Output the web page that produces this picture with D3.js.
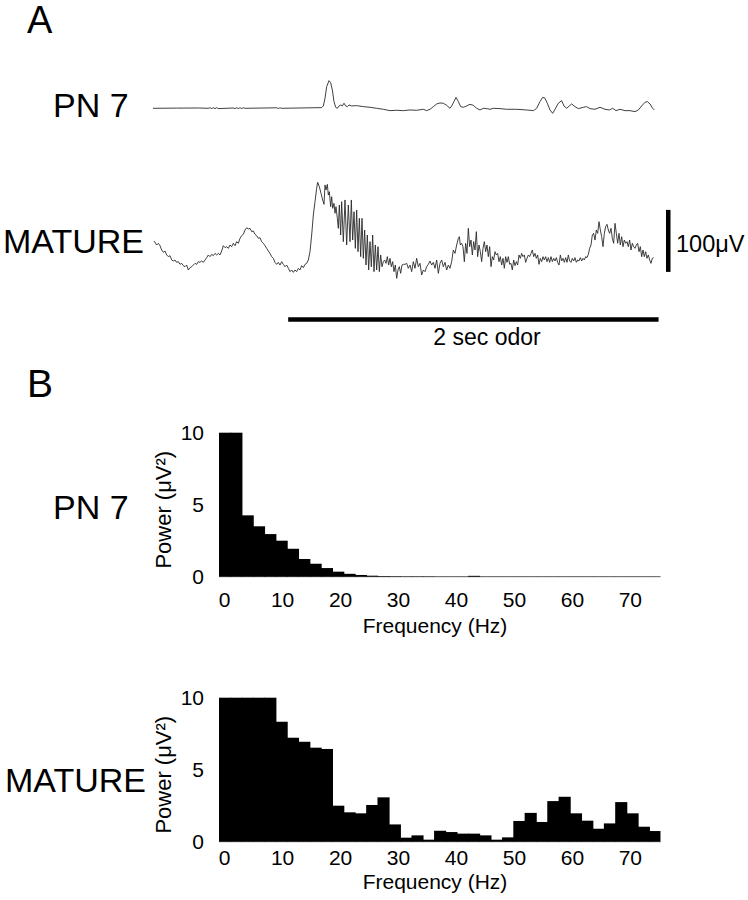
<!DOCTYPE html>
<html>
<head>
<meta charset="utf-8">
<script src="https://cdn.jsdelivr.net/npm/d3@7"></script>
<style>
  html, body { margin: 0; padding: 0; background: #fff; }
  svg { display: block; }
  text { font-family: "Liberation Sans", Arial, Helvetica, sans-serif; fill: #000; }
</style>
</head>
<body>
<svg id="chart" width="748" height="900"></svg>
<script>
// ---------------- DATA ----------------
// Panel A: LFP traces (time in ms from trace start, voltage in µV)
const pn7TimeMs = [0,127.8,244.8,298.8,307.8,316.8,325.8,334.8,343.8,352.8,433.8,442.8,451.8,460.8,469.8,478.8,487.8,496.8,667.8,676.8,685.8,694.8,910.8,919.8,928.8,937.8,950.4,959.4,968.4,977.4,986.4,995.4,1004.4,1013.4,1022.4,1031.4,1040.4,1049.4,1058.4,1072.8,1099.8,1135.8,1171.8,1207.8,1243.8,1279.8,1315.8,1351.8,1387.8,1423.8,1459.8,1477.8,1495.8,1513.8,1531.8,1549.8,1567.8,1585.8,1603.8,1612.8,1625.4,1636.2,1648.8,1661.4,1675.8,1693.8,1711.8,1729.8,1747.8,1765.8,1783.8,1801.8,1819.8,1837.8,1873.8,1909.8,1963.8,2017.8,2053.8,2071.8,2089.8,2104.2,2116.8,2129.4,2143.8,2158.2,2170.8,2188.8,2206.8,2219.4,2233.8,2248.2,2260.8,2278.8,2296.8,2323.8,2341.8,2359.8,2386.8,2413.8,2440.8,2464.2,2482.2,2500.2,2521.8,2548.8,2575.8,2602.8,2620.8,2638.8,2656.8,2669.4,2683.8,2698.2,2707.2];
const pn7MicroV = [0,0.3,0.5,0,1.0,-0.5,1.0,-0.5,1.0,-0.5,0.5,-0.5,1.0,-0.5,1.0,-0.5,1.0,0,0.8,-0.3,0.8,0,1.1,3.8,16.1,34.9,44.6,41.4,29.6,10.8,1.6,0,3.8,5.4,3.8,8.1,3.8,2.7,5.4,3.8,4.3,2.7,1.6,0,-1.6,-3.8,-3.2,-3.8,-2.7,-3.2,-1.6,-3.8,-1.6,2.7,7.0,8.6,8.1,4.8,0,3.8,10.8,17.7,10.8,2.7,1.6,3.8,6.5,4.8,0,-2.7,0,-0.5,-1.6,0,-0.5,-1.6,-1.6,-2.7,-3.8,0,10.8,17.7,16.1,8.1,-2.7,-8.1,-1.6,8.1,12.4,3.8,0,3.8,7.0,2.7,-0.5,1.6,2.7,-0.5,-1.6,1.6,-1.6,-2.7,0,-3.8,-1.6,-3.8,-3.8,-5.4,-2.7,3.8,9.7,10.8,7.0,0,-2.7];

const matureTimeMs = [5.4,19.8,28.8,37.8,46.8,55.8,64.8,73.8,82.8,91.8,100.8,109.8,118.8,127.8,136.8,145.8,154.8,163.8,172.8,181.8,190.8,199.8,208.8,217.8,226.8,235.8,244.8,253.8,262.8,271.8,280.8,289.8,298.8,307.8,316.8,325.8,334.8,343.8,352.8,361.8,370.8,379.8,388.8,397.8,406.8,415.8,424.8,433.8,442.8,451.8,460.8,469.8,478.8,487.8,496.8,505.8,514.8,523.8,532.8,541.8,550.8,559.8,568.8,577.8,586.8,595.8,604.8,613.8,622.8,631.8,640.8,649.8,658.8,667.8,676.8,685.8,694.8,703.8,712.8,721.8,730.8,739.8,748.8,757.8,766.8,775.8,784.8,793.8,802.8,811.8,820.8,829.8,838.8,847.8,856.8,865.8,874.8,883.8,889.2,898.2,907.2,916.2,923.4,928.8,934.2,941.4,946.8,952.2,959.4,964.8,970.2,977.4,982.8,988.2,995.4,1000.8,1006.2,1013.4,1018.8,1027.8,1036.8,1045.8,1054.8,1063.8,1071.0,1078.2,1085.4,1092.6,1099.8,1107.0,1114.2,1121.4,1128.6,1135.8,1143.0,1150.2,1157.4,1164.6,1171.8,1179.0,1186.2,1193.4,1200.6,1207.8,1215.0,1222.2,1229.4,1236.6,1243.8,1251.0,1258.2,1265.4,1272.6,1279.8,1287.0,1294.2,1301.4,1308.6,1315.8,1323.0,1330.2,1337.4,1344.6,1351.8,1360.8,1369.8,1378.8,1387.8,1396.8,1405.8,1414.8,1423.8,1432.8,1441.8,1450.8,1459.8,1468.8,1477.8,1486.8,1495.8,1504.8,1513.8,1522.8,1531.8,1540.8,1549.8,1558.8,1567.8,1576.8,1585.8,1594.8,1603.8,1612.8,1621.8,1630.8,1639.8,1648.8,1654.2,1659.6,1666.8,1674.0,1681.2,1688.4,1695.6,1702.8,1710.0,1717.2,1724.4,1731.6,1738.8,1746.0,1753.2,1760.4,1767.6,1774.8,1782.0,1789.2,1796.4,1803.6,1810.8,1818.0,1825.2,1832.4,1839.6,1846.8,1854.0,1861.2,1868.4,1875.6,1882.8,1890.0,1897.2,1904.4,1911.6,1918.8,1926.0,1933.2,1940.4,1947.6,1954.8,1962.0,1969.2,1976.4,1983.6,1990.8,1998.0,2005.2,2012.4,2019.6,2026.8,2034.0,2041.2,2048.4,2055.6,2062.8,2070.0,2077.2,2084.4,2091.6,2098.8,2106.0,2113.2,2120.4,2127.6,2134.8,2142.0,2149.2,2156.4,2163.6,2170.8,2178.0,2185.2,2192.4,2199.6,2206.8,2214.0,2221.2,2228.4,2235.6,2242.8,2250.0,2257.2,2264.4,2271.6,2278.8,2286.0,2293.2,2300.4,2307.6,2314.8,2322.0,2329.2,2336.4,2343.6,2350.8,2358.0,2365.2,2372.4,2379.6,2386.8,2394.0,2401.2,2408.4,2415.6,2422.8,2430.0,2437.2,2444.4,2451.6,2458.8,2466.0,2473.2,2480.4,2487.6,2494.8,2502.0,2509.2,2516.4,2523.6,2530.8,2538.0,2545.2,2552.4,2559.6,2566.8,2574.0,2581.2,2588.4,2595.6,2602.8,2610.0,2617.2,2624.4,2631.6,2638.8,2646.0,2653.2,2660.4,2667.6,2674.8,2682.0,2689.2,2696.4,2703.6];
const matureMicroV = [54.8,48.4,51.1,47.3,40.3,36.6,38.7,32.3,29.6,31.2,24.2,22.6,24.2,20.4,21.5,17.2,18.8,15.1,13.4,16.1,8.1,11.8,13.4,16.1,18.8,17.2,21.5,20.4,22.6,20.4,24.2,28.0,32.3,29.6,33.3,31.2,34.9,32.3,34.9,32.3,38.7,47.3,44.1,45.7,43.0,48.4,45.7,51.1,47.3,53.8,51.1,59.1,63.4,65.6,72.6,76.3,74.2,75.3,69.9,71.0,65.6,63.4,59.1,60.2,53.8,51.1,47.3,43.0,38.7,34.9,29.6,26.9,20.4,17.2,20.4,16.1,21.5,17.2,13.4,16.1,10.8,5.4,8.1,4.3,8.1,5.4,10.8,8.1,15.1,11.8,17.2,18.8,24.2,37.6,64.5,96.8,118.3,139.8,149.5,142.5,131.7,121.0,114.0,145.2,137.1,146.2,129.0,134.4,110.2,126.3,107.5,115.6,99.5,110.2,91.4,75.3,112.9,64.5,118.3,53.8,121.0,48.4,112.9,53.8,121.0,56.4,102.1,43.0,104.8,37.6,91.4,29.6,91.4,26.9,72.6,16.1,64.5,8.1,53.8,13.4,64.5,5.4,48.4,8.1,45.7,5.4,32.3,13.4,21.5,24.2,18.8,29.6,16.1,26.9,13.4,21.5,5.4,16.1,-5.4,8.1,13.4,2.7,16.1,17.2,17.2,18.8,10.8,16.1,5.4,21.5,10.8,26.9,13.4,18.8,0,8.1,5.4,13.4,17.2,22.6,16.1,20.4,10.8,24.2,2.7,18.8,24.2,13.4,20.4,8.1,16.1,10.8,21.5,40.3,34.9,48.4,59.1,61.8,48.4,51.1,45.7,21.5,51.1,34.9,75.3,45.7,56.4,32.3,53.8,40.3,69.9,29.6,48.4,37.6,21.5,43.0,53.8,37.6,48.4,29.6,45.7,13.4,29.6,24.2,37.6,32.3,34.9,21.5,29.6,16.1,26.9,10.8,29.6,20.4,29.6,17.2,18.8,8.1,24.2,15.1,21.5,16.1,32.3,26.9,34.9,29.6,32.3,20.4,26.9,32.3,29.6,34.9,40.3,29.6,34.9,26.9,32.3,17.2,26.9,21.5,29.6,24.2,29.6,21.5,28.0,20.4,29.6,21.5,26.9,22.6,28.0,20.4,16.1,32.3,22.6,26.9,20.4,28.0,20.4,32.3,22.6,20.4,26.9,22.6,28.0,20.4,24.2,22.6,28.0,22.6,26.9,24.2,29.6,28.0,33.3,43.0,48.4,64.5,67.2,56.4,72.6,67.2,86.0,72.6,61.8,45.7,67.2,78.0,81.7,72.6,67.2,75.3,59.1,51.1,83.3,67.2,51.1,67.2,48.4,61.8,45.7,56.4,51.1,53.8,45.7,56.4,40.3,51.1,45.7,43.0,48.4,51.1,37.6,45.7,29.6,40.3,29.6,37.6,26.9,32.3,24.2,18.8,26.9,28.0];

const traceSpanMs = 2750;
const odorOnsetMs = 730;
const odorOffsetMs = 2730;
const scaleBarMicroV = 100;
const traceLabels = ["PN 7", "MATURE"];

// Panel B: power spectra (bins of 1.953125 Hz, centred on k * binWidth)
const binWidthHz = 1.953125;
const pn7Power = [10,10,4.26,3.5,2.96,2.5,1.94,1.23,0.9,0.6,0.35,0.2,0.12,0.07,0.04,0.03,0.02,0.02,0.02,0.01,0.01,0.01,0.06,0.01,0.01,0.01,0.01,0.01,0.01,0.01,0.01,0.01,0.01,0.01,0.01,0.01,0.01,0.01,0.01];
const maturePower = [10,10,10,10,10,8.33,7.22,6.94,6.53,6.44,2.5,2.04,1.97,2.55,3.08,1.2,0.28,0.44,0.14,0.76,0.67,0.56,0.56,0.44,0.14,0.3,1.44,2.0,1.37,2.82,3.12,1.97,1.46,0.9,1.27,2.75,1.97,1.04,0.74];
const freqTicks = [0,10,20,30,40,50,60,70];
const powerTicks = [0,5,10];
const freqMaxHz = 75.2;
const powerMax = 10;

// ---------------- DRAWING ----------------
const svg = d3.select("#chart");
svg.append("rect").attr("width", 748).attr("height", 900).attr("fill", "#fff");

// Panel letters
svg.append("text").attr("x", 27).attr("y", 33).attr("font-size", 38).text("A");
svg.append("text").attr("x", 27).attr("y", 397).attr("font-size", 39).text("B");

// ---- Panel A traces ----
const tx = d3.scaleLinear().domain([0, traceSpanMs]).range([153, 153 + traceSpanMs / 5.4]);
const pxPerUv = 0.62;
const yPn7 = d3.scaleLinear().domain([0, 100]).range([108.3, 108.3 - 100 * pxPerUv]);
const yMat = d3.scaleLinear().domain([0, 100]).range([275, 275 - 100 * pxPerUv]);

function drawTrace(times, vals, ys) {
  const n = Math.min(times.length, vals.length);
  const pts = d3.range(n).map(i => [times[i], vals[i]]);
  svg.append("path")
    .datum(pts)
    .attr("fill", "none")
    .attr("stroke", "#2a2a2a")
    .attr("stroke-width", 0.9)
    .attr("stroke-linejoin", "round")
    .attr("d", d3.line().x(d => tx(d[0])).y(d => ys(d[1])));
}
drawTrace(pn7TimeMs, pn7MicroV, yPn7);
drawTrace(matureTimeMs, matureMicroV, yMat);

svg.append("text").attr("x", 53).attr("y", 117).attr("font-size", 34).text(traceLabels[0]);
svg.append("text").attr("x", 3).attr("y", 253).attr("font-size", 34).text(traceLabels[1]);

// Scale bar (100 µV)
svg.append("rect")
  .attr("x", 666).attr("width", 4.5)
  .attr("y", yMat(5 + scaleBarMicroV)).attr("height", yMat(5) - yMat(5 + scaleBarMicroV))
  .attr("fill", "#000");
svg.append("text").attr("x", 676).attr("y", 252).attr("font-size", 23.5).text("100\u03BCV");

// Odor bar
svg.append("line")
  .attr("x1", tx(odorOnsetMs)).attr("x2", tx(odorOffsetMs))
  .attr("y1", 319.5).attr("y2", 319.5)
  .attr("stroke", "#000").attr("stroke-width", 4.5);
svg.append("text").attr("x", 487).attr("y", 345).attr("font-size", 23)
  .attr("text-anchor", "middle").text("2 sec odor");

// ---- Panel B spectra ----
function drawSpectrum(values, yZero, label, labelX, labelBaseline, tickOffset, titleOffset) {
  const xs = d3.scaleLinear().domain([-binWidthHz / 2, freqMaxHz]).range([219, 660.5]);
  const ys = d3.scaleLinear().domain([0, powerMax]).range([yZero, yZero - 144]);
  const g = svg.append("g");

  g.append("line")
    .attr("x1", xs(-binWidthHz / 2)).attr("x2", xs(freqMaxHz))
    .attr("y1", ys(0)).attr("y2", ys(0))
    .attr("stroke", "#8a8a8a").attr("stroke-width", 1.3);

  const last = values.length - 1;
  g.selectAll("rect.bar").data(values).enter().append("rect")
    .attr("class", "bar")
    .attr("x", (d, i) => xs((i - 0.5) * binWidthHz))
    .attr("width", (d, i) => xs((i + 0.5) * binWidthHz) - xs((i - 0.5) * binWidthHz) + (i < last ? 0.8 : 0))
    .attr("y", d => ys(Math.min(d, powerMax)))
    .attr("height", d => ys(0) - ys(Math.min(d, powerMax)))
    .attr("fill", "#000");

  g.selectAll("text.xt").data(freqTicks).enter().append("text")
    .attr("class", "xt")
    .attr("x", d => xs(d)).attr("y", ys(0) + tickOffset)
    .attr("text-anchor", "middle").attr("font-size", 21)
    .text(d => d);

  g.selectAll("text.yt").data(powerTicks).enter().append("text")
    .attr("class", "yt")
    .attr("x", 204).attr("y", d => ys(d) + 7.5)
    .attr("text-anchor", "end").attr("font-size", 21)
    .text(d => d);

  g.append("text")
    .attr("x", 435).attr("y", ys(0) + titleOffset)
    .attr("text-anchor", "middle").attr("font-size", 21)
    .text("Frequency (Hz)");

  g.append("text")
    .attr("transform", `translate(171,${ys(0) - 67}) rotate(-90)`)
    .attr("text-anchor", "middle").attr("font-size", 22)
    .text("Power (\u03BCV\u00B2)");

  svg.append("text").attr("x", labelX).attr("y", labelBaseline).attr("font-size", 34).text(label);
}

drawSpectrum(pn7Power, 576.7, traceLabels[0], 53, 519, 30, 56);
drawSpectrum(maturePower, 841.7, traceLabels[1], 5, 792, 23.5, 47);
</script>
</body>
</html>
